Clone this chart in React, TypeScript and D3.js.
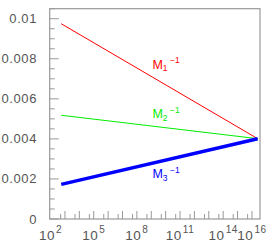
import React, { useRef, useEffect } from "react";
import * as d3 from "d3";

// energy scale Q (GeV) at which the curves are evaluated
const scales = [550, 2.5e16];
// inverse gaugino masses (arbitrary units)
const m1inv = [0.00975, 0.00401];
const m2inv = [0.00518, 0.00401];
const m3inv = [0.00173, 0.00401];

const seriesNames = ["1", "2", "3"];
const seriesColors = ["#ff0000", "#00ee00", "#0000ff"];
const seriesWidths = [1, 1, 3.5];
// label anchors (Q, value) for the M_i^-1 annotations
const labelQ = [1.2e9, 1.2e9, 1.2e9];
const labelVal = [0.00751, 0.00502, 0.00203];

const yTicks = [0, 0.002, 0.004, 0.006, 0.008, 0.01];
const xLabelPowers = [2, 5, 8, 11, 14, 16];

const App: React.FC = () => {
  const svgRef = useRef<SVGSVGElement>(null);

  useEffect(() => {
    if (!svgRef.current) return;
    const svg = d3.select(svgRef.current);
    svg.selectAll("*").remove();

    const left = 49.7;
    const right = 260;
    const top = 8.7;
    const bottom = 219;

    const x = d3
      .scaleLog()
      .domain([Math.pow(10, 1.94), Math.pow(10, 16.56)])
      .range([left, right]);
    const y = d3.scaleLinear().domain([0, 0.0105]).range([bottom, top]);

    const axisColor = "#999";
    const textColor = "#555";
    const font = "Liberation Sans, Arial, sans-serif";

    // frame
    svg
      .append("rect")
      .attr("x", left)
      .attr("y", top)
      .attr("width", right - left)
      .attr("height", bottom - top)
      .attr("fill", "none")
      .attr("stroke", axisColor)
      .attr("stroke-width", 1.2);

    // y ticks: major every 0.002, minor every 0.0005
    const yMinor = d3.range(0, 0.01051, 0.0005);
    svg
      .append("g")
      .selectAll("line")
      .data(yMinor)
      .join("line")
      .attr("x1", left)
      .attr("x2", (d) => (Math.abs(d / 0.002 - Math.round(d / 0.002)) < 1e-6 ? left + 9 : left + 5))
      .attr("y1", (d) => y(d))
      .attr("y2", (d) => y(d))
      .attr("stroke", axisColor)
      .attr("stroke-width", 1);

    svg
      .append("g")
      .selectAll("text")
      .data(yTicks)
      .join("text")
      .attr("x", 37)
      .attr("y", (d) => y(d) + 4.5)
      .attr("text-anchor", "end")
      .attr("font-family", font)
      .attr("font-size", 13)
      .attr("letter-spacing", 0.6)
      .attr("fill", textColor)
      .text((d) => (d === 0 ? "0" : d3.format("")(+d.toFixed(3))));

    // x ticks: 10^n long, 5*10^n short
    const xMajor = d3.range(2, 17).map((p) => Math.pow(10, p));
    const xMinor = d3.range(2, 17).map((p) => 5 * Math.pow(10, p));
    svg
      .append("g")
      .selectAll("line")
      .data(xMajor.filter((d) => x(d) > left + 1 && x(d) < right - 1))
      .join("line")
      .attr("x1", (d) => x(d))
      .attr("x2", (d) => x(d))
      .attr("y1", bottom)
      .attr("y2", bottom - 8)
      .attr("stroke", axisColor);
    svg
      .append("g")
      .selectAll("line")
      .data(xMinor.filter((d) => x(d) < right - 1))
      .join("line")
      .attr("x1", (d) => x(d))
      .attr("x2", (d) => x(d))
      .attr("y1", bottom)
      .attr("y2", bottom - 5)
      .attr("stroke", axisColor);

    const xl = svg
      .append("g")
      .selectAll("text")
      .data(xLabelPowers)
      .join("text")
      .attr("x", (d) => x(Math.pow(10, d)))
      .attr("y", 240)
      .attr("text-anchor", "middle")
      .attr("font-family", font)
      .attr("font-size", 13.5)
      .attr("letter-spacing", 0.5)
      .attr("fill", textColor);
    xl.append("tspan").text("10");
    xl.append("tspan")
      .attr("dy", -7.5)
      .attr("dx", 1)
      .attr("font-size", 10)
      .text((d) => String(d));

    // curves
    const series = [m1inv, m2inv, m3inv];
    const line = d3
      .line<number>()
      .x((_, i) => x(scales[i]))
      .y((d) => y(d));

    svg
      .append("g")
      .selectAll("path")
      .data(series)
      .join("path")
      .attr("d", (d) => line(d))
      .attr("fill", "none")
      .attr("stroke", (_, i) => seriesColors[i])
      .attr("stroke-width", (_, i) => seriesWidths[i]);

    // labels M_i^-1
    const lab = svg
      .append("g")
      .selectAll("text")
      .data(seriesNames)
      .join("text")
      .attr("x", (_, i) => x(labelQ[i]))
      .attr("y", (_, i) => y(labelVal[i]))
      .attr("font-family", font)
      .attr("font-size", 12.5)
      .attr("fill", (_, i) => seriesColors[i]);
    lab.append("tspan").text("M");
    lab.append("tspan")
      .attr("dy", 2.5)
      .attr("font-size", 8.5)
      .text((d) => d);
    lab.append("tspan")
      .attr("dy", -8)
      .attr("dx", 2.5)
      .attr("font-size", 8.5)
      .text("\u22121");
  }, []);

  return (
    <svg
      ref={svgRef}
      width={275}
      height={243}
      style={{ position: "absolute", left: 0, top: 0, background: "#fff" }}
    />
  );
};

export default App;
